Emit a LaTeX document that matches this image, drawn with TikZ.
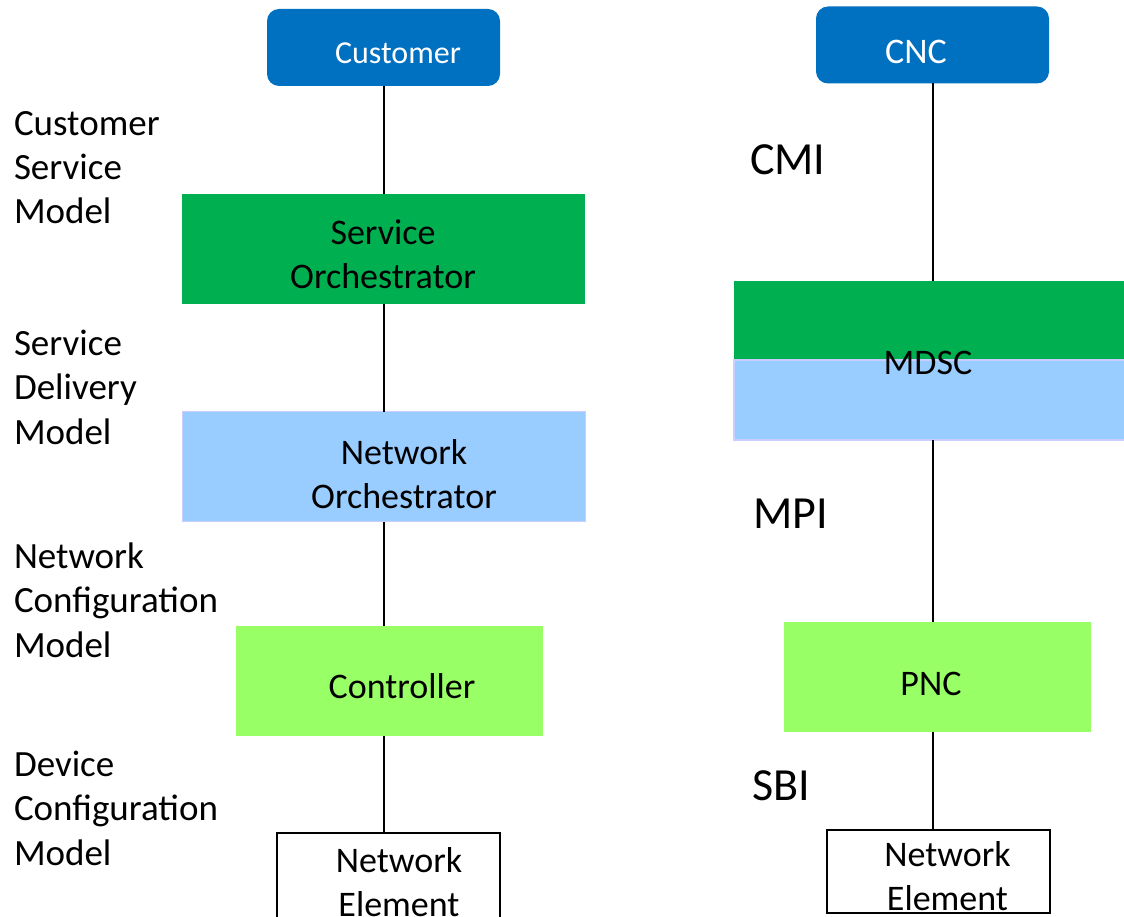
\documentclass[tikz,border=0pt]{standalone}
\usepackage{fontspec}
\setmainfont{Carlito}
\definecolor{custblue}{HTML}{0070C0}
\definecolor{orchgreen}{HTML}{00B050}
\definecolor{skyblue}{HTML}{99CCFF}
\definecolor{limegreen}{HTML}{99FF66}
\definecolor{lavender}{HTML}{CCCCFF}
\tikzset{
  x=1pt, y=-1pt,
  every node/.style={inner sep=0pt, outer sep=0pt},
  topbox/.style={fill=custblue, rounded corners=12pt, minimum width=233pt, minimum height=77pt},
  boxtext/.style={font=\fontsize{36}{43.5}\selectfont, align=center},
  toptext/.style={font=\fontsize{32}{38}\selectfont, text=white},
  modeltext/.style={font=\fontsize{37}{44.3}\selectfont, align=left},
  iftext/.style={font=\fontsize{46}{50}\selectfont},
  link/.style={draw=black, line width=1.8pt},
  plainbox/.style={draw=black, line width=1.5pt, fill=white},
}
\begin{document}
\begin{tikzpicture}
\useasboundingbox (0,0) rectangle (1124,917);

% ---- left column: service model stack ----
\node[topbox] (cust) at (383.5,47.5) {};
\node[toptext, anchor=base] at (398,64) {Customer};

\node[fill=orchgreen, minimum width=403pt, minimum height=110pt] (so) at (383.5,249) {};
\node[boxtext, anchor=base] at (383,288) {Service\\Orchestrator};

\node[fill=skyblue, draw=lavender, line width=1.5pt, minimum width=403pt, minimum height=110pt] (no) at (384,466.5) {};
\node[boxtext, anchor=base] at (404,508) {Network\\Orchestrator};

\node[fill=limegreen, minimum width=307pt, minimum height=110pt] (ctrl) at (389.5,681) {};
\node[boxtext, anchor=base] at (402,698) {Controller};

\node[plainbox, minimum width=223pt, minimum height=110pt] (neL) at (388.5,888) {};
\node[boxtext, anchor=base] at (399,916) {Network\\Element};

\coordinate (axL) at (384,0);
\draw[link] (cust.south -| axL) -- (so.north -| axL);
\draw[link] (so.south -| axL) -- (no.north -| axL);
\draw[link] (no.south -| axL) -- (ctrl.north -| axL);
\draw[link] (ctrl.south -| axL) -- (neL.north -| axL);

% ---- model labels ----
\node[modeltext, anchor=base west] at (14,224) {Customer\\Service\\Model};
\node[modeltext, anchor=base west] at (14,444) {Service\\Delivery\\Model};
\node[modeltext, anchor=base west] at (14,657) {Network\\Configuration\\Model};
\node[modeltext, anchor=base west] at (14,865) {Device\\Configuration\\Model};

% ---- right column: ACTN hierarchy ----
\node[topbox] (cnc) at (932.5,45) {};
\node[toptext, font=\fontsize{36}{40}\selectfont, anchor=base] at (916,64) {CNC};

\node[fill=orchgreen, minimum width=395pt, minimum height=79pt, anchor=north west] (mdscT) at (734,281) {};
\node[fill=skyblue, draw=lavender, line width=1.5pt, minimum width=400pt, minimum height=80pt, anchor=north west] (mdscB) at (734,360) {};
\node[boxtext, anchor=base] at (928,374) {MDSC};

\node[fill=limegreen, minimum width=307pt, minimum height=110pt] (pnc) at (937.5,677) {};
\node[boxtext, anchor=base] at (931,695) {PNC};

\node[plainbox, minimum width=223pt, minimum height=83pt] (neR) at (938.5,871.5) {};
\node[boxtext, anchor=base] at (947.5,910) {Network\\Element};

\coordinate (axR) at (933,0);
\draw[link] (cnc.south -| axR) -- (mdscT.north -| axR);
\draw[link] (mdscB.south -| axR) -- (pnc.north -| axR);
\draw[link] (pnc.south -| axR) -- (neR.north -| axR);

% ---- interface labels ----
\node[iftext, anchor=base west] at (750,175) {CMI};
\node[iftext, anchor=base west] at (753,528) {MPI};
\node[iftext, anchor=base west] at (752,800) {SBI};
\end{tikzpicture}
\end{document}
